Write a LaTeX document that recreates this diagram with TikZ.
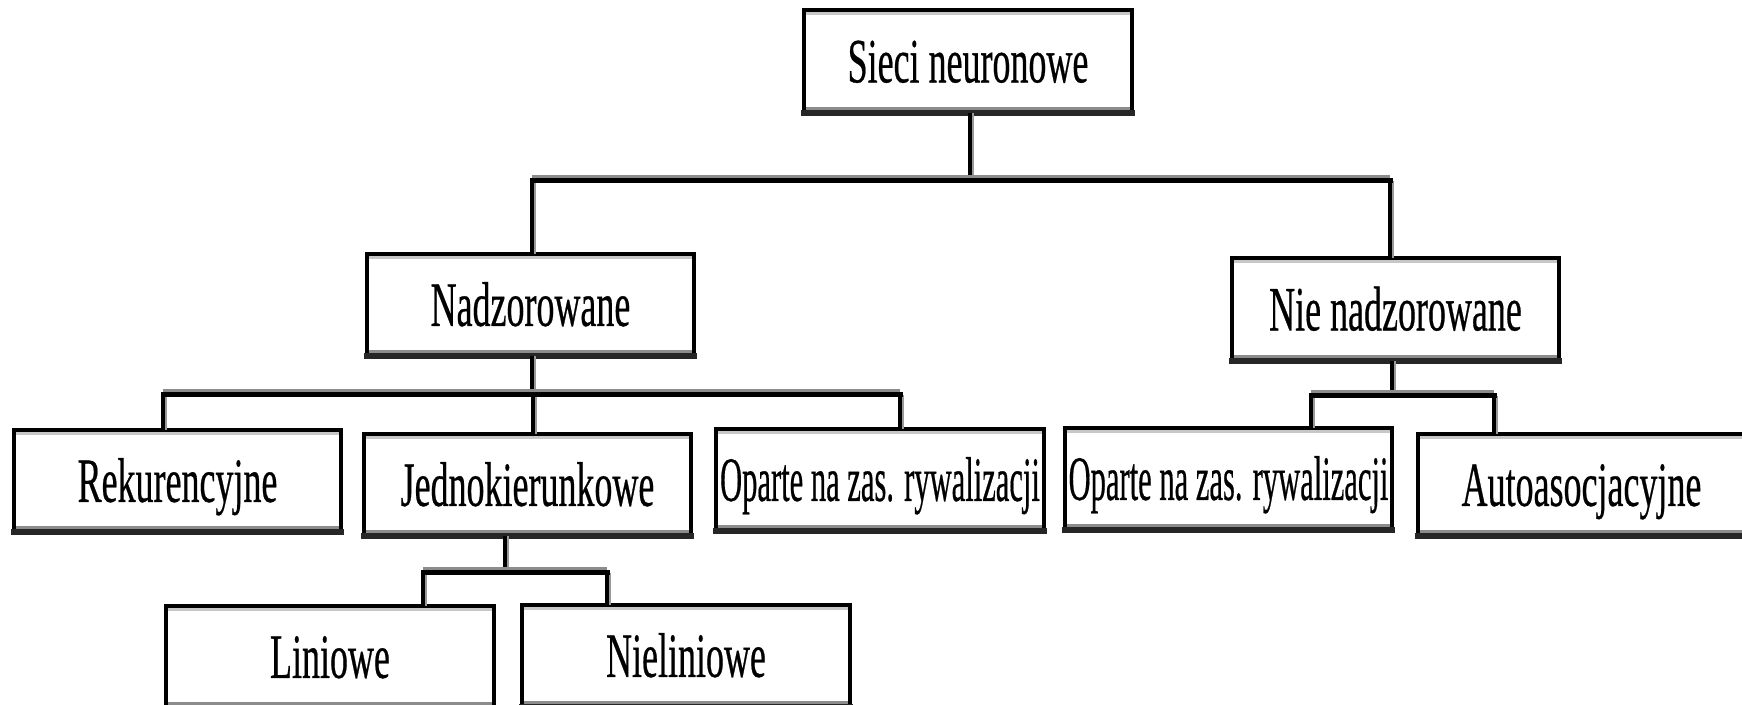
\documentclass[tikz,border=0pt]{standalone}
\usepackage{graphicx}
\usepackage{fontspec}
\setmainfont{Liberation Serif}
\newfontfamily\boxfont[FakeBold=0.6]{Liberation Serif}
\newcommand\sqz[2]{\scalebox{#1}[1]{#2}}
\begin{document}
\begin{tikzpicture}[x=0.5pt,y=-0.5pt,
  box/.style={minimum width=163.5pt, minimum height=51pt, inner sep=0pt,
    text height=20.85pt, text depth=0pt, font=\boxfont\fontsize{31.5}{34}\selectfont},
  link/.style={line width=2pt, black,
    preaction={draw=black!40, line width=1pt, transform canvas={xshift=1.4pt}}},
  bar/.style={line width=2.5pt, black, line cap=rect,
    preaction={draw=black!45, line width=2pt, transform canvas={yshift=2.2pt}}},
]
\useasboundingbox (0,0) rectangle (1742,705);
\clip (0,0) rectangle (1742,705);

\node[box] (root) at (968,61.5) {\sqz{0.571}{Sieci neuronowe}};
\node[box] (nad)  at (530.5,305) {\sqz{0.571}{Nadzorowane}};
\node[box] (nie)  at (1395.5,309.5) {\sqz{0.571}{Nie nadzorowane}};
\node[box] (rek)  at (177.5,481) {\sqz{0.571}{Rekurencyjne}};
\node[box] (jed)  at (527.5,485) {\sqz{0.571}{Jednokierunkowe}};
\node[box] (op1)  at (880,480) {\sqz{0.485}{Oparte na zas. rywalizacji}};
\node[box] (op2)  at (1228.5,479) {\sqz{0.485}{Oparte na zas. rywalizacji}};
\node[box] (auto) at (1581.5,485) {\sqz{0.571}{Autoasocjacyjne}};
\node[box] (lin)  at (330,657) {\sqz{0.571}{Liniowe}};
\node[box] (nlin) at (686,656) {\sqz{0.571}{Nieliniowe}};

\foreach \n in {root,nad,nie,rek,jed,op1,op2,auto,lin,nlin}{
  \fill[black!22] ([yshift=-1pt]\n.north west) rectangle ([yshift=-2.5pt]\n.north east);
  \fill[black!45] ([yshift=1.5pt]\n.south west) rectangle ([yshift=3pt]\n.south east);
  \draw[line width=2pt] (\n.south west) rectangle (\n.north east);
  \draw[line width=2pt, line cap=rect] (\n.north west) -- (\n.north east);
  \draw[line width=3pt, line cap=rect, black!85] (\n.south west) -- (\n.south east);
}

\coordinate (yA) at (0,181);
\coordinate (yB) at (0,395);
\coordinate (yC) at (0,396);
\coordinate (yD) at (0,573);

% level 1
\draw[link] ([xshift=1pt]root.south) -- ([xshift=1pt]root.south |- yA);
\draw[link] ([xshift=0.75pt]nad.north) -- ([xshift=0.75pt]nad.north |- yA);
\draw[link] ([xshift=-2.75pt]nie.north) -- ([xshift=-2.75pt]nie.north |- yA);
\draw[bar] ([xshift=0.75pt]nad.north |- yA) -- ([xshift=-2.75pt]nie.north |- yA);

% under Nadzorowane
\draw[link] ([xshift=0.75pt]nad.south) -- ([xshift=0.75pt]nad.south |- yB);
\draw[link] ([xshift=-7.25pt]rek.north) -- ([xshift=-7.25pt]rek.north |- yB);
\draw[link] ([xshift=2.75pt]jed.north) -- ([xshift=2.75pt]jed.north |- yB);
\draw[link] ([xshift=10pt]op1.north) -- ([xshift=10pt]op1.north |- yB);
\draw[bar] ([xshift=-7.25pt]rek.north |- yB) -- ([xshift=10pt]op1.north |- yB);

% under Nie nadzorowane
\draw[link] ([xshift=-1.75pt]nie.south) -- ([xshift=-1.75pt]nie.south |- yC);
\draw[link] ([xshift=41.25pt]op2.north) -- ([xshift=41.25pt]op2.north |- yC);
\draw[link] ([xshift=-43.75pt]auto.north) -- ([xshift=-43.75pt]auto.north |- yC);
\draw[bar] ([xshift=41.25pt]op2.north |- yC) -- ([xshift=-43.75pt]auto.north |- yC);

% under Jednokierunkowe
\draw[link] ([xshift=-11.25pt]jed.south) -- ([xshift=-11.25pt]jed.south |- yD);
\draw[link] ([xshift=46.5pt]lin.north) -- ([xshift=46.5pt]lin.north |- yD);
\draw[link] ([xshift=-39.5pt]nlin.north) -- ([xshift=-39.5pt]nlin.north |- yD);
\draw[bar] ([xshift=46.5pt]lin.north |- yD) -- ([xshift=-39.5pt]nlin.north |- yD);
\end{tikzpicture}
\end{document}
